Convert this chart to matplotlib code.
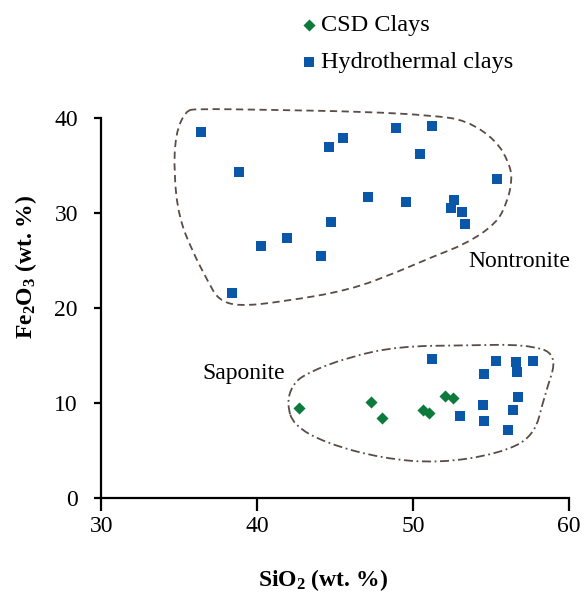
import numpy as np
import matplotlib
matplotlib.use("Agg")
from matplotlib import pyplot as plt
from matplotlib.path import Path
from matplotlib.patches import PathPatch

plt.rcParams['font.family'] = ['Liberation Serif', 'DejaVu Serif']
plt.rcParams['mathtext.default'] = 'regular'

# data
csd_sio2 = [42.7, 47.3, 48.0, 50.6, 51.0, 52.05, 52.55]
csd_fe2o3 = [9.5, 10.1, 8.4, 9.3, 8.95, 10.8, 10.6]

hyd_sio2 = [36.4, 38.8, 44.6, 45.5, 48.9, 51.2, 50.4, 55.4, 47.1, 49.5,
            52.6, 52.4, 53.1, 53.3, 44.7, 41.9, 40.25, 44.1, 38.4,
            51.2, 55.3, 56.6, 56.65, 57.7, 54.55, 56.7, 54.5, 56.4, 53.0, 54.55, 56.1]
hyd_fe2o3 = [38.6, 34.3, 37.0, 37.9, 39.0, 39.2, 36.2, 33.6, 31.7, 31.2,
             31.4, 30.6, 30.1, 28.9, 29.1, 27.4, 26.6, 25.5, 21.6,
             14.7, 14.5, 14.3, 13.3, 14.4, 13.05, 10.7, 9.85, 9.3, 8.7, 8.1, 7.2]

# field outlines
nontronite_x = [35.4, 34.75, 34.64, 34.96, 35.8, 36.9, 37.5, 38.8, 41.6, 45.9, 49.1,
                51.2, 53.4, 55.3, 56.0, 56.35, 56.15, 55.3, 53.4, 51.2, 46.9, 40.5, 36.1]
nontronite_y = [40.8, 38.4, 34.2, 29.6, 26.1, 22.6, 20.9, 20.2, 20.7, 21.9, 23.9,
                25.4, 26.8, 28.9, 31.05, 33.5, 35.3, 37.7, 39.8, 40.3, 40.7, 40.9, 41.0]
saponite_x = [41.9, 42.23, 43.1, 45.9, 49.1, 53.4, 57.2, 59.3, 58.4, 57.75, 55.5,
              51.65, 48.0, 44.4, 42.3]
saponite_y = [10.0, 11.9, 13.15, 14.9, 16.0, 16.1, 16.2, 15.2, 10.7, 6.5, 4.7,
              3.7, 4.2, 5.8, 7.7]

blue = '#0a56a8'
green = '#0b7a3c'
edge = '#5a4c46'


def smooth_outline(xs, ys):
    # closed quadratic b-spline through midpoints of the control polygon
    pts = np.column_stack([xs, ys])
    n = len(pts)
    mids = (pts + np.roll(pts, -1, axis=0)) / 2
    verts = [mids[-1]]
    codes = [Path.MOVETO]
    for i in range(n):
        verts += [pts[i], mids[i]]
        codes += [Path.CURVE3, Path.CURVE3]
    return Path(verts, codes)


fig = plt.figure(figsize=(5.85, 5.93), dpi=100)
ax = fig.add_axes([0.1735, 0.1597, 0.7995, 0.6408])

ax.add_patch(PathPatch(smooth_outline(nontronite_x, nontronite_y), fill=False,
                       edgecolor=edge, lw=1.3, linestyle=(0, (4, 2.5)), clip_on=False))
ax.add_patch(PathPatch(smooth_outline(saponite_x, saponite_y), fill=False,
                       edgecolor=edge, lw=1.3, linestyle=(0, (5, 2, 1, 2)), clip_on=False))

ax.scatter(csd_sio2, csd_fe2o3, marker='D', s=38, color=green, linewidths=0,
           label='CSD Clays', zorder=3, clip_on=False)
ax.scatter(hyd_sio2, hyd_fe2o3, marker='s', s=58, color=blue, linewidths=0,
           label='Hydrothermal clays', zorder=3, clip_on=False)

ax.text(53.5, 24.9, 'Nontronite', fontsize=17, va='center', ha='left')
ax.text(36.45, 13.15, 'Saponite', fontsize=17, va='center', ha='left')

ax.set_xlim(30, 60)
ax.set_ylim(0, 40)
ax.set_xticks([30, 40, 50, 60])
ax.set_yticks([0, 10, 20, 30, 40])
for s in ['top', 'right']:
    ax.spines[s].set_visible(False)
for s in ['left', 'bottom']:
    ax.spines[s].set_linewidth(1.6)
ax.tick_params(axis='x', direction='out', length=9, width=1.6, pad=4, labelsize=17)
ax.tick_params(axis='y', direction='out', length=5, width=1.6, pad=12, labelsize=17)

ax.set_xlabel('SiO$_2$ (wt. %)', fontsize=17, fontweight='bold')
ax.set_ylabel('Fe$_2$O$_3$ (wt. %)', fontsize=17, fontweight='bold')
ax.xaxis.set_label_coords(0.474, -0.18)
ax.yaxis.set_label_coords(-0.133, 0.609)

ax.legend(loc='upper left', bbox_to_anchor=(303 / 585, 1 - 14 / 593),
          bbox_transform=fig.transFigure, frameon=False, fontsize=17.5,
          handlelength=0.5, handletextpad=0.25, labelspacing=0.62,
          borderpad=0, borderaxespad=0, scatterpoints=1)

fig.savefig('out.png', dpi=100, facecolor='white')
